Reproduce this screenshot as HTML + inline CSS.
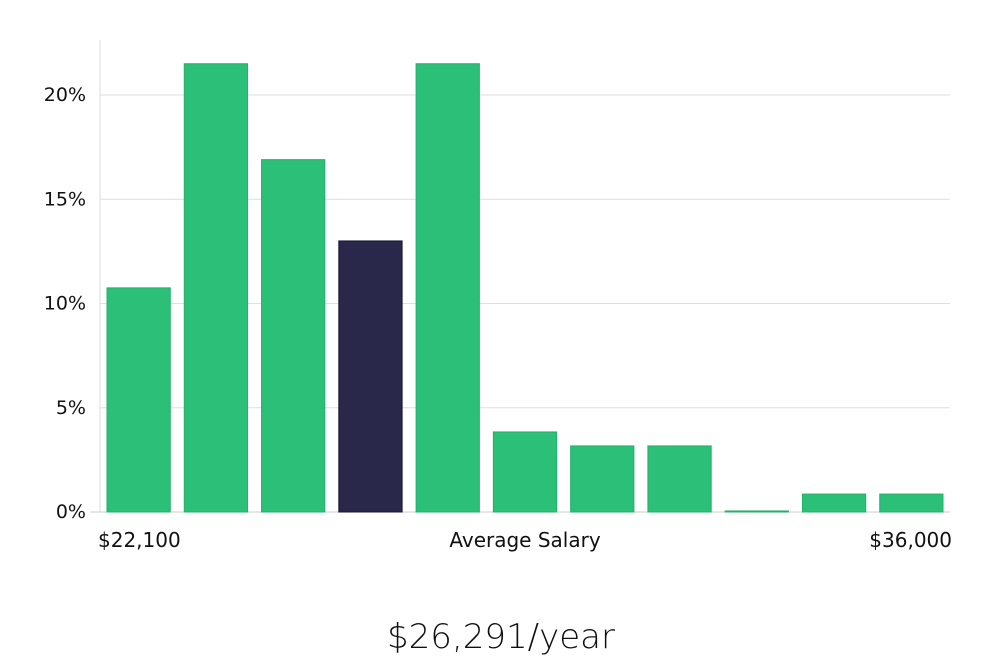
<!DOCTYPE html>
<html><head><meta charset="utf-8"><style>
body{margin:0;background:#fff;width:1000px;height:660px;overflow:hidden;font-family:"DejaVu Sans","Liberation Sans",sans-serif}
</style></head><body>
<svg id="chart" width="1000" height="660" xmlns="http://www.w3.org/2000/svg"></svg>
<script>
const categories=["b1","b2","b3","b4","b5","b6","b7","b8","b9","b10","b11"];
const values=[10.75,21.5,16.9,13.0,21.5,3.84,3.17,3.17,0.05,0.86,0.86];
const highlight=[false,false,false,true,false,false,false,false,false,false,false];
const yTicks=[0,5,10,15,20];
const yTickLabels=["0%","5%","10%","15%","20%"];
const svg=document.getElementById('chart');
const NS="http://www.w3.org/2000/svg";
const x0=100,x1=950,yBase=512,yTop20=95;
const yScale=v=>yBase-(yBase-yTop20)*v/20;
const step=(x1-x0)/categories.length;
const xScale=i=>x0+i*step;
function mk(t,a){const e=document.createElementNS(NS,t);for(const k in a)e.setAttribute(k,a[k]);svg.appendChild(e);return e;}
yTicks.forEach((t,i)=>{
  if(t>0){const g=mk('line',{x1:x0,x2:x1,y1:yScale(t),y2:yScale(t),stroke:'#dedede','stroke-width':1});
  
  }
  const l=mk('text',{x:86,y:yScale(t)+6,'text-anchor':'end','font-size':19,fill:'#111'});
  l.textContent=yTickLabels[i];
  
  
});
const ya=mk('line',{x1:x0,x2:x0,y1:40,y2:yBase,stroke:'#ddd','stroke-width':1});


const xa=mk('line',{x1:90,x2:x1,y1:yBase,y2:yBase,stroke:'#ccc','stroke-width':1});


values.forEach((v,i)=>{
  const y=yScale(v);
  const r=mk('rect',{x:xScale(i)+7,y:y,width:step-14,height:yBase-y,fill:highlight[i]?'#29274a':'#2bbf77',stroke:highlight[i]?'#151431':'#25b06c','stroke-width':1});
  
  
});
const labs=[[98,'start','$22,100','x-min-label'],[525,'middle','Average Salary','x-axis-title'],[952,'end','$36,000','x-max-label']];
labs.forEach(a=>{const t=mk('text',{x:a[0],y:547,'text-anchor':a[1],'font-size':20,fill:'#111'});t.textContent=a[2];

});
const s=mk('text',{x:501,y:648,'text-anchor':'middle','font-size':34,fill:'#111','font-family':'"DejaVu Sans","Liberation Sans",sans-serif','font-weight':'300'});
s.textContent='$26,291/year';


</script>
</body></html>
